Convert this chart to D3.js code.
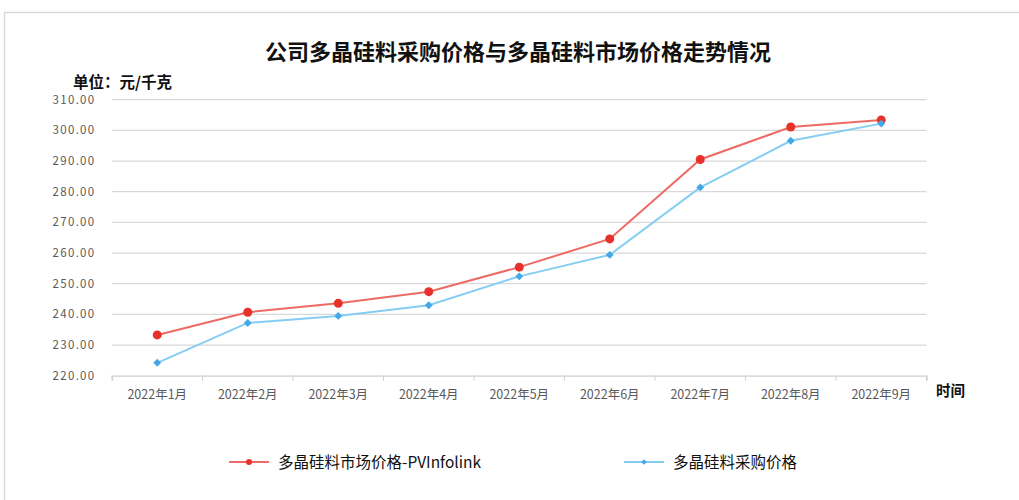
<!DOCTYPE html>
<html>
<head>
<meta charset="utf-8">
<script src="https://cdnjs.cloudflare.com/ajax/libs/d3/7.8.5/d3.min.js"></script>
<style>
body { margin: 0; background: #fff; }
text { font-family: "Noto Sans CJK SC", "Noto Sans", sans-serif; }
</style>
</head>
<body>
<script>
var months = ["2022年1月", "2022年2月", "2022年3月", "2022年4月", "2022年5月", "2022年6月", "2022年7月", "2022年8月", "2022年9月"];
var marketPrice = [233.3, 240.7, 243.6, 247.4, 255.4, 264.6, 290.5, 301.1, 303.4];
var purchasePrice = [224.2, 237.2, 239.5, 243.0, 252.4, 259.4, 281.4, 296.6, 302.2];
var yTicks = [220, 230, 240, 250, 260, 270, 280, 290, 300, 310];
var seriesNames = ["多晶硅料市场价格-PVInfolink", "多晶硅料采购价格"];

var w = 1019, h = 500;
var redDot = "#e8312a", redLine = "#ee6a64";
var blueDot = "#45a8e6", blueLine = "#86cdf2";

var svg = d3.select("body").append("svg")
	.attr("width", w)
	.attr("height", h);

// frame
svg.append("rect")
	.attr("x", 4.5).attr("y", 12.5)
	.attr("width", w + 10).attr("height", h)
	.attr("fill", "none")
	.attr("stroke", "#d9d9d9")
	.attr("stroke-width", 1.5);

var x = d3.scaleBand().domain(months).range([112, 926.5]);
var y = d3.scaleLinear().domain([220, 310]).range([375.7, 99.7]);

// gridlines
svg.append("g").selectAll("line")
	.data(yTicks.slice(1))
	.join("line")
	.attr("x1", 112).attr("x2", 926.5)
	.attr("y1", d => y(d)).attr("y2", d => y(d))
	.attr("stroke", "#d9d9d9")
	.attr("stroke-width", 1.3);

// y labels
svg.append("g").selectAll("text")
	.data(yTicks)
	.join("text")
	.attr("x", 95.5)
	.attr("y", d => y(d) + 4)
	.attr("text-anchor", "end")
	.attr("font-size", 11.5)
	.attr("letter-spacing", 1.3)
	.attr("font-family", "'Noto Sans', sans-serif")
	.attr("fill", "#595959")
	.text(d => d.toFixed(2));

// x axis
var xAxis = d3.axisBottom(x).tickSize(5).tickSizeOuter(5).tickPadding(9);
var gx = svg.append("g")
	.attr("transform", "translate(0," + y(220) + ")")
	.call(xAxis);
gx.select(".domain").attr("stroke", "#d0d0d0").attr("stroke-width", 1.3);
gx.selectAll(".tick line")
	.attr("transform", d => "translate(" + (-x.bandwidth() / 2) + ",0)")
	.attr("stroke", "#d0d0d0");
gx.append("line")
	.attr("x1", 926.5).attr("x2", 926.5).attr("y1", 0).attr("y2", 5)
	.attr("stroke", "#d0d0d0");
gx.selectAll(".tick text")
	.attr("font-size", 12.5)
	.attr("fill", "#595959")
	.attr("font-family", "'Noto Sans CJK SC', sans-serif");

// titles
svg.append("text")
	.attr("x", 518).attr("y", 60)
	.attr("text-anchor", "middle")
	.attr("font-size", 22)
	.attr("font-weight", "bold")
	.attr("fill", "#111")
	.text("公司多晶硅料采购价格与多晶硅料市场价格走势情况");
svg.append("text")
	.attr("x", 73).attr("y", 87.5)
	.attr("font-size", 15.5)
	.attr("font-weight", "bold")
	.attr("fill", "#111")
	.text("单位：元/千克");
svg.append("text")
	.attr("x", 936).attr("y", 396)
	.attr("font-size", 14.5)
	.attr("font-weight", "bold")
	.attr("fill", "#111")
	.text("时间");

var cx = d => x(d) + x.bandwidth() / 2;
var line = d3.line().x((d, i) => cx(months[i])).y(d => y(d));

svg.append("path")
	.datum(marketPrice)
	.attr("d", line)
	.attr("fill", "none")
	.attr("stroke", redLine)
	.attr("stroke-width", 2);
svg.append("path")
	.datum(purchasePrice)
	.attr("d", line)
	.attr("fill", "none")
	.attr("stroke", blueLine)
	.attr("stroke-width", 2);

svg.append("g").selectAll("circle")
	.data(marketPrice)
	.join("circle")
	.attr("cx", (d, i) => cx(months[i]))
	.attr("cy", d => y(d))
	.attr("r", 4.5)
	.attr("fill", redDot);

var diamond = d3.symbol().type(d3.symbolDiamond2).size(40);
svg.append("g").selectAll("path")
	.data(purchasePrice)
	.join("path")
	.attr("d", diamond)
	.attr("transform", (d, i) => "translate(" + cx(months[i]) + "," + y(d) + ")")
	.attr("fill", blueDot);

// legend
var legend = [
	{ x: 229, color: redLine, dot: redDot, type: "circle", name: seriesNames[0] },
	{ x: 624, color: blueLine, dot: blueDot, type: "diamond", name: seriesNames[1] }
];
var lg = svg.append("g").selectAll("g")
	.data(legend)
	.join("g")
	.attr("transform", d => "translate(" + d.x + ",462)");
lg.append("line")
	.attr("x1", 0).attr("x2", 40)
	.attr("stroke", d => d.color)
	.attr("stroke-width", 2);
lg.each(function(d) {
	var g = d3.select(this);
	if (d.type == "circle")
		g.append("circle").attr("cx", 20).attr("r", 3).attr("fill", d.dot);
	else
		g.append("path").attr("d", d3.symbol().type(d3.symbolDiamond2).size(18))
			.attr("transform", "translate(20,0)").attr("fill", d.dot);
});
lg.append("text")
	.attr("x", 49).attr("y", 5.5)
	.attr("font-size", 15.5)
	.attr("fill", "#111")
	.text(d => d.name);
</script>
</body>
</html>
